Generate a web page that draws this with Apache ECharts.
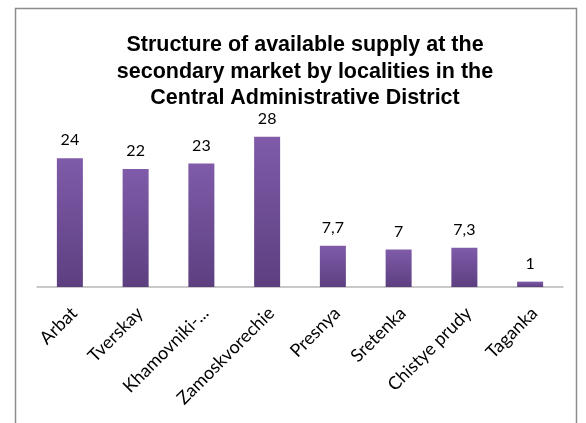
<!DOCTYPE html>
<html><head><meta charset="utf-8">
<script src="https://cdn.jsdelivr.net/npm/echarts@6/dist/echarts.min.js"></script>
<style>html,body{margin:0;padding:0;background:#fff}#c{width:586px;height:423px}</style>
</head><body><div id="c"></div>
<script>
const categories = ['Arbat','Tverskay','Khamovniki-...','Zamoskvorechie','Presnya','Sretenka','Chistye prudy','Taganka'];
const values = [24, 22, 23, 28, 7.7, 7, 7.3, 1];
const labelTexts = ['24','22','23','28','7,7','7','7,3','1'];
const titleText = 'Structure of available supply at the\nsecondary market by localities in the\nCentral Administrative District';

const chart = echarts.init(document.getElementById('c'), null, {renderer:'canvas'});
chart.setOption({
  animation: false,
  backgroundColor: '#fff',
  graphic: [{
    type: 'rect', shape: {x: 15.5, y: 8.5, width: 561, height: 430},
    style: {fill: 'none', stroke: '#8c8c8c', lineWidth: 1.5}, silent: true
  }],
  title: {
    text: titleText, left: 300, top: 27, textAlign: 'center',
    textStyle: {fontFamily: 'Liberation Sans', fontWeight: 'bold', fontSize: 21.5, lineHeight: 26.5, color: '#000'}
  },
  grid: {left: 37, right: 23, top: 126, bottom: 136},
  xAxis: {
    type: 'category', data: categories,
    axisLine: {lineStyle: {color: '#b8b8b8', width: 1.5}},
    axisTick: {show: false},
    axisLabel: {rotate: 45, interval: 0, margin: 19, verticalAlign: 'top', align: 'right', lineHeight: 12, fontFamily: 'Lato', fontSize: 18, color: '#000'}
  },
  yAxis: {type: 'value', min: 0, max: 30, show: false, splitLine: {show: false}},
  series: [{
    type: 'bar', data: values, barWidth: 26,
    itemStyle: {color: new echarts.graphic.LinearGradient(0,0,0,1,[{offset:0,color:'#7f5ba9'},{offset:1,color:'#5d3f80'}])},
    label: {show: true, position: 'top', distance: 10, fontFamily: 'Lato', fontSize: 16, color: '#000',
      formatter: p => labelTexts[p.dataIndex]}
  }]
});
</script></body></html>
